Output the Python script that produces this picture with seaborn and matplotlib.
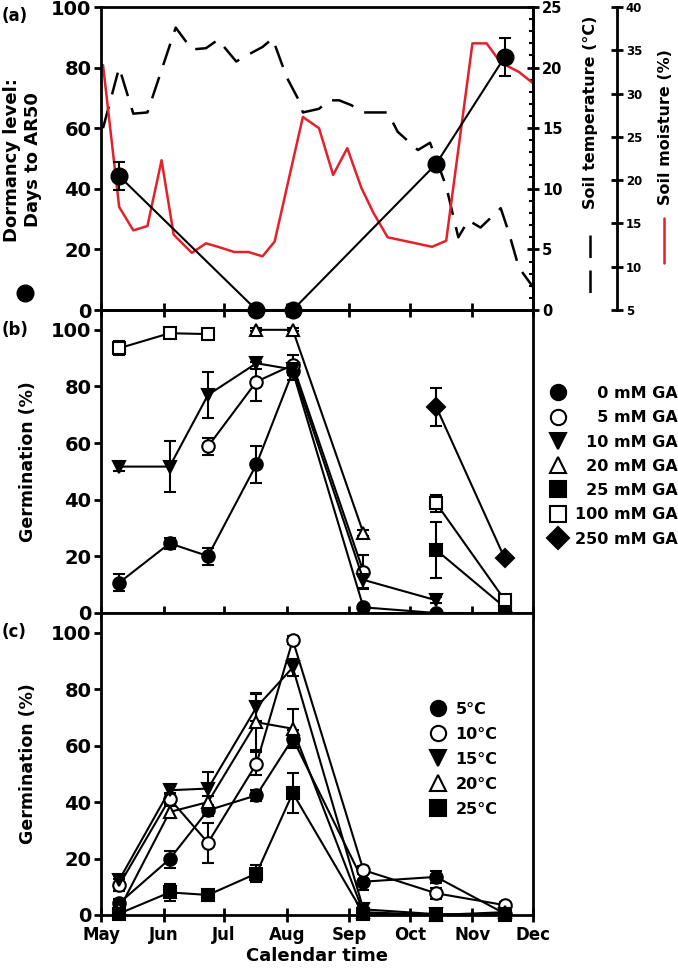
import numpy as np
import matplotlib
matplotlib.use("Agg")
import matplotlib.pyplot as plt
from matplotlib.lines import Line2D
from matplotlib.ticker import MultipleLocator
import seaborn as sns
import pandas as pd

# x axis: days counted from 1 May
months = ["May", "Jun", "Jul", "Aug", "Sep", "Oct", "Nov", "Dec"]
month_starts = [0, 31, 61, 92, 123, 153, 184, 214]

# seed collection dates (days from 1 May)
sample_days = [9, 34, 53, 77, 95, 130, 166, 200]

# panel (a): dormancy level (days to AR50)
dormancy_days = [9, 77, 95, 166, 200]
dormancy = [44.2, 0, 0, 48.2, 83.5]
dormancy_err = [4.5, 0, 0, 0, 6.3]

# panel (a): soil temperature (deg C)
temp_days = [1, 9, 16, 23, 37, 45, 52, 58, 67, 71, 80, 85, 92, 98, 100, 108,
             113, 118, 124, 130, 142, 147, 157, 163, 171, 177, 182, 188, 198, 202, 207, 214]
soil_temp = [15.0, 20.0, 16.2, 16.3, 23.3, 21.5, 21.6, 22.3, 20.5, 20.9, 21.7, 22.4, 19.2, 17.3, 16.3, 16.6,
             17.3, 17.3, 16.9, 16.3, 16.3, 14.7, 13.2, 13.8, 10.2, 6.0, 7.4, 6.8, 8.4, 6.4, 3.5, 1.9]

# panel (a): soil moisture (%)
moist_days = [1, 9, 16, 23, 30, 36, 45, 52, 58, 66, 73, 80, 86, 100, 108, 115,
              122, 129, 135, 142, 152, 164, 171, 184, 191, 197, 202, 207, 214]
soil_moist = [33.3, 16.9, 14.2, 14.7, 22.3, 13.7, 11.6, 12.7, 12.3, 11.7, 11.7, 11.2, 12.9, 27.3, 26.0, 20.6,
              23.7, 19.1, 16.2, 13.4, 12.9, 12.3, 13.0, 35.8, 35.8, 33.9, 33.1, 32.5, 31.2]

nan = np.nan

# panel (b): germination (%) with GA
ga_labels = ["\u2007\u20070 mM GA", "\u2007\u20075 mM GA", "\u200710 mM GA", "\u200720 mM GA",
             "\u200725 mM GA", "100 mM GA", "250 mM GA"]
ga_values = {
    "0": [10.7, 24.6, 20.1, 52.5, 85.3, 2.0, 0.0, 0.0],
    "5": [nan, nan, 58.8, 81.7, 87.6, 14.6, nan, nan],
    "10": [51.7, 51.7, 77.0, 88.2, 86.0, 11.7, 4.5, nan],
    "20": [nan, nan, nan, 100.0, 100.0, 28.2, nan, nan],
    "25": [nan, nan, nan, nan, nan, nan, 22.3, 2.0],
    "100": [93.5, 98.8, 98.5, nan, nan, nan, 38.8, 4.6],
    "250": [nan, nan, nan, nan, nan, nan, 72.9, 19.3],
}
ga_err = {
    "0": [3, 2, 3, 6.5, 3, 1, 0, 0],
    "5": [0, 0, 3, 7, 3.5, 6, 0, 0],
    "10": [1.5, 9, 8, 2, 2, 3, 1, 0],
    "20": [0, 0, 0, 0.5, 0.5, 1, 0, 0],
    "25": [0, 0, 0, 0, 0, 0, 10, 1],
    "100": [2.5, 1, 1, 0, 0, 0, 3, 1],
    "250": [0, 0, 0, 0, 0, 0, 6.7, 1],
}

# panel (c): germination (%) at incubation temperatures
temp_labels = ["5\u00b0C", "10\u00b0C", "15\u00b0C", "20\u00b0C", "25\u00b0C"]
temp_values = {
    "5": [4.2, 19.8, 37.1, 42.4, 62.5, 11.8, 13.5, 0.5],
    "10": [10.6, 41.2, 25.6, 53.6, 97.4, 15.9, 7.7, 3.5],
    "15": [12.4, 44.2, 44.8, 73.6, 87.7, 2.0, 0.3, 0.3],
    "20": [2.0, 36.5, 40.0, 68.3, 66.0, 1.0, 0.0, 1.0],
    "25": [0.5, 8.0, 7.1, 14.7, 43.2, 0.5, 0.0, 0.0],
}
temp_err = {
    "5": [1.5, 3, 2, 2, 3, 3, 2, 0.5],
    "10": [2, 2, 7, 4, 1.5, 1.5, 2, 1],
    "15": [1.5, 1.5, 6, 5, 3, 1, 0.5, 0.5],
    "20": [1, 2, 2, 10, 7, 1, 0, 1],
    "25": [0.5, 3, 1.5, 3, 7, 0.5, 0, 0],
}

# marker style per series: (marker, face colour)
ga_styles = [("o", "k"), ("o", "w"), ("v", "k"), ("^", "w"), ("s", "k"), ("s", "w"), ("D", "k")]
temp_styles = [("o", "k"), ("o", "w"), ("v", "k"), ("^", "w"), ("s", "k")]

RED = "#e4202a"

sns.set_style("ticks")
plt.rcParams["font.family"] = ["DejaVu Sans"]
plt.rcParams["font.weight"] = "bold"
plt.rcParams["axes.labelweight"] = "bold"
plt.rcParams["axes.linewidth"] = 2.0
plt.rcParams["axes.edgecolor"] = "k"
plt.rcParams["text.color"] = "k"
plt.rcParams["axes.labelcolor"] = "k"
plt.rcParams["xtick.color"] = "k"
plt.rcParams["ytick.color"] = "k"

fig = plt.figure(figsize=(6.78, 9.75), dpi=100)
left, width = 101 / 678, 432 / 678
ax_a = fig.add_axes([left, 1 - 310 / 975, width, 303 / 975])
ax_b = fig.add_axes([left, 1 - 613 / 975, width, 303 / 975])
ax_c = fig.add_axes([left, 1 - 915 / 975, width, 302 / 975])


def style_axis(ax, ymax, show_xlabels):
    ax.set_xlim(month_starts[0], month_starts[-1])
    ax.set_ylim(0, ymax)
    ax.set_xticks(month_starts)
    ax.set_xticklabels(months if show_xlabels else [])
    ax.set_yticks(range(0, 101, 20))
    ax.tick_params(axis="x", direction="inout", length=10, width=2, labelsize=12, pad=3, colors="k")
    ax.tick_params(axis="y", direction="out", length=5, width=2, labelsize=14, pad=2, colors="k")
    for s in ax.spines.values():
        s.set_visible(True)
        s.set_linewidth(2)


def draw_series(ax, values, errs, styles, ms=9):
    for (key, y), (mk, fc) in zip(values.items(), styles):
        ax.errorbar(sample_days, y, yerr=errs[key], fmt=mk + "-", color="k", mfc=fc, mec="k",
                    mew=1.5, ms=ms, lw=1.5, elinewidth=1.5, capsize=4, capthick=1.5, clip_on=False)


# ---- panel (a)
ax_t = ax_a.twinx()
ax_m = ax_a.twinx()
sns.lineplot(x=temp_days, y=soil_temp, ax=ax_t, color="k", lw=1.8, linestyle=(0, (9, 5)), sort=False)
sns.lineplot(x=moist_days, y=soil_moist, ax=ax_m, color=RED, lw=1.8, sort=False)
ax_a.errorbar(dormancy_days, dormancy, yerr=dormancy_err, fmt="o-", color="k", ms=12, lw=1.5,
              elinewidth=1.5, capsize=4, capthick=1.5, clip_on=False)
ax_a.set_zorder(ax_m.get_zorder() + 1)
ax_a.patch.set_visible(False)
style_axis(ax_a, 100, False)

ax_t.set_ylim(0, 25)
ax_t.yaxis.set_major_locator(MultipleLocator(5))
ax_t.yaxis.set_minor_locator(MultipleLocator(1))
ax_t.tick_params(axis="y", which="major", direction="inout", length=9, width=2, labelsize=10.5, pad=2)
ax_t.tick_params(axis="y", which="minor", direction="in", length=3, width=1.5)
ax_t.set_ylabel("")
for side in ["top", "bottom", "left"]:
    ax_t.spines[side].set_visible(False)
ax_t.spines["right"].set_linewidth(2)

ax_m.set_ylim(5, 40)
ax_m.set_yticks(range(5, 41, 5))
ax_m.spines["right"].set_position(("axes", 1.194))
ax_m.tick_params(axis="y", direction="inout", length=9, width=2, labelsize=8.5, pad=2)
ax_m.set_ylabel("")
for side in ["top", "bottom", "left"]:
    ax_m.spines[side].set_visible(False)
ax_m.spines["right"].set_linewidth(2)

ax_a.text(-0.181, 0.495, "Dormancy level:\nDays to AR50", transform=ax_a.transAxes, rotation=90,
          ha="center", va="center", fontsize=13, fontweight="bold")
ax_a.text(1.134, 0.653, "Soil temperature (\u00b0C)", transform=ax_a.transAxes, rotation=90,
          ha="center", va="center", fontsize=11.5, fontweight="bold")
ax_a.text(1.306, 0.604, "Soil moisture (%)", transform=ax_a.transAxes, rotation=90,
          ha="center", va="center", fontsize=11.5, fontweight="bold")

# line keys under the axis titles
fig.add_artist(Line2D([25 / 678], [1 - 293 / 975], marker="o", ms=12, color="k", transform=fig.transFigure))
fig.add_artist(Line2D([590 / 678] * 2, [1 - 235 / 975, 1 - 297 / 975], color="k", lw=1.8,
                      linestyle=(0, (9, 5)), transform=fig.transFigure))
fig.add_artist(Line2D([664 / 678] * 2, [1 - 218 / 975, 1 - 263 / 975], color=RED, lw=1.8,
                      transform=fig.transFigure))

# ---- panel (b)
draw_series(ax_b, ga_values, ga_err, ga_styles)
style_axis(ax_b, 107, False)
ax_b.text(-0.169, 0.5, "Germination (%)", transform=ax_b.transAxes, rotation=90,
          ha="center", va="center", fontsize=12.5, fontweight="bold")
ga_handles = [Line2D([], [], ls="none", marker=mk, mfc=fc, mec="k", mew=1.5, color="k", ms=11)
              for mk, fc in ga_styles]
ax_b.legend(ga_handles, ga_labels, loc="upper right", bbox_to_anchor=(1.0, 1 - 386 / 975),
            bbox_transform=fig.transFigure, frameon=False, fontsize=11.5, handlelength=1.0,
            handletextpad=0.6, labelspacing=0.58, borderpad=0, borderaxespad=0)

# ---- panel (c)
draw_series(ax_c, temp_values, temp_err, temp_styles)
style_axis(ax_c, 107, True)
ax_c.text(-0.169, 0.5, "Germination (%)", transform=ax_c.transAxes, rotation=90,
          ha="center", va="center", fontsize=12.5, fontweight="bold")
ax_c.set_xlabel("Calendar time", fontsize=13, labelpad=2)
temp_handles = [Line2D([], [], ls="none", marker=mk, mfc=fc, mec="k", mew=1.5, color="k", ms=11)
                for mk, fc in temp_styles]
ax_c.legend(temp_handles, temp_labels, loc="upper left", bbox_to_anchor=(430 / 678, 1 - 702 / 975),
            bbox_transform=fig.transFigure, frameon=False, fontsize=11.5, handlelength=1.0,
            handletextpad=0.6, labelspacing=0.62, borderpad=0, borderaxespad=0)

# panel letters
for label, ypix in [("(a)", 16), ("(b)", 330), ("(c)", 632)]:
    fig.text(2 / 678, 1 - ypix / 975, label, ha="left", va="center", fontsize=12, fontweight="bold")

fig.savefig("out.png", dpi=100)
